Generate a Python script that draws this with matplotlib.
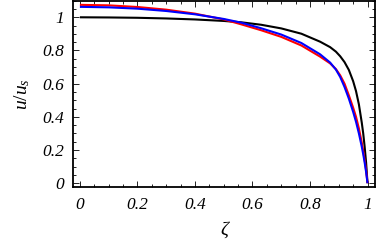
import matplotlib
matplotlib.use("Agg")
import matplotlib.pyplot as plt
from matplotlib.ticker import MultipleLocator, FuncFormatter

plt.rcParams['mathtext.fontset'] = 'custom'
plt.rcParams['mathtext.rm'] = 'Liberation Serif'
plt.rcParams['mathtext.it'] = 'Liberation Serif:italic'
plt.rcParams['font.family'] = ['Liberation Serif', 'DejaVu Serif']

zeta = [0, 0.1, 0.2, 0.3, 0.4, 0.5, 0.56, 0.63, 0.7, 0.77, 0.835, 0.87, 0.89,
        0.905, 0.92, 0.935, 0.95, 0.96, 0.97, 0.98, 0.985, 0.99, 0.995, 1.0]

black_u = [1.0, 0.999, 0.997, 0.993, 0.987, 0.978, 0.970, 0.955, 0.933, 0.901,
           0.853, 0.820, 0.793, 0.765, 0.730, 0.683, 0.615, 0.555, 0.475, 0.365,
           0.30, 0.22, 0.125, 0.0]
red_u = [1.075, 1.072, 1.062, 1.046, 1.022, 0.987, 0.958, 0.922, 0.882, 0.830,
         0.763, 0.722, 0.688, 0.650, 0.600, 0.53, 0.455, 0.40, 0.33, 0.245,
         0.195, 0.14, 0.08, 0.0]
blue_u = [1.063, 1.06, 1.052, 1.038, 1.018, 0.99, 0.968, 0.934, 0.896, 0.845,
          0.777, 0.727, 0.685, 0.640, 0.580, 0.51, 0.43, 0.37, 0.30, 0.22,
          0.175, 0.125, 0.068, 0.0]

fig = plt.figure(figsize=(3.88, 2.40), dpi=100)
ax = fig.add_axes([73/388, 53/240, (375-73)/388, (239.3-53)/240])

ax.plot(zeta, black_u, color='black', lw=1.5, solid_capstyle='butt')
ax.plot(zeta, red_u, color='#ff0000', lw=1.5, solid_capstyle='butt')
ax.plot(zeta, blue_u, color='#0000ff', lw=1.5, solid_capstyle='butt')

ax.set_xlim(-0.024, 1.026)
ax.set_ylim(-0.023, 1.10)

ax.xaxis.set_major_locator(MultipleLocator(0.2))
ax.xaxis.set_minor_locator(MultipleLocator(0.05))
ax.yaxis.set_major_locator(MultipleLocator(0.2))
ax.yaxis.set_minor_locator(MultipleLocator(0.05))
fmt = FuncFormatter(lambda v, p: ('%g' % round(v, 3)))
ax.xaxis.set_major_formatter(fmt)
ax.yaxis.set_major_formatter(fmt)

ax.tick_params(which='both', direction='in', top=True, right=True, width=0.6)
ax.tick_params(which='major', length=4, labelsize=12.5)
ax.tick_params(axis='x', which='major', pad=7.5)
ax.tick_params(axis='y', which='major', pad=6.5)
ax.tick_params(which='minor', length=2)
for lab in ax.get_xticklabels() + ax.get_yticklabels():
    lab.set_fontstyle('italic')

for s in ax.spines.values():
    s.set_linewidth(1.3)

ax.set_xlabel('ζ', fontsize=14, fontstyle='italic', labelpad=6)
ax.set_ylabel('$u/u_s$', fontsize=14, labelpad=7)

fig.savefig('out.png', dpi=100)
